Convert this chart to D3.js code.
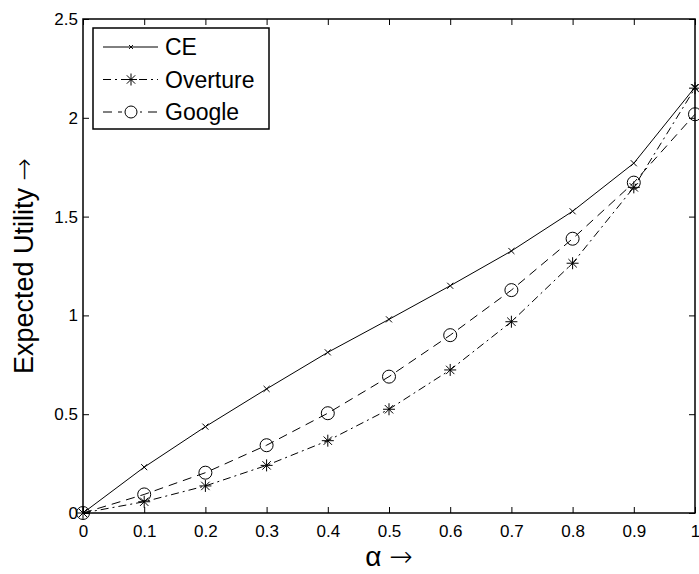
<!DOCTYPE html>
<html>
<head>
<meta charset="utf-8">
<script src="https://cdn.jsdelivr.net/npm/d3@7"></script>
<style>
  body { margin: 0; background: #fff; }
  svg text { font-family: Arial, "Liberation Sans", sans-serif; fill: #000; }
</style>
</head>
<body>
<div id="chart"></div>
<script>
// values
const alphas = [0, 0.1, 0.2, 0.3, 0.4, 0.5, 0.6, 0.7, 0.8, 0.9, 1.0];
const ceValues = [0, 0.232, 0.437, 0.628, 0.813, 0.98, 1.15, 1.326, 1.527, 1.77, 2.155];
const overtureValues = [0, 0.057, 0.137, 0.241, 0.366, 0.525, 0.724, 0.968, 1.264, 1.648, 2.15];
const googleValues = [0, 0.094, 0.204, 0.343, 0.505, 0.69, 0.9, 1.128, 1.388, 1.672, 2.018];
const xTicks = [0, 0.1, 0.2, 0.3, 0.4, 0.5, 0.6, 0.7, 0.8, 0.9, 1];
const yTicks = [0, 0.5, 1, 1.5, 2, 2.5];
const seriesNames = ['CE', 'Overture', 'Google'];

const width = 699, height = 574;
const margin = { top: 19, right: 4, bottom: 61, left: 83 };

const svg = d3.select('#chart').append('svg')
    .attr('width', width)
    .attr('height', height);

const x = d3.scaleLinear().domain([0, 1]).range([margin.left, width - margin.right]);
const y = d3.scaleLinear().domain([0, 2.5]).range([height - margin.bottom, margin.top]);

const series = [
    { name: seriesNames[0], values: ceValues, dash: null, marker: 'x' },
    { name: seriesNames[1], values: overtureValues, dash: '8,4,2,4', marker: 'star' },
    { name: seriesNames[2], values: googleValues, dash: '9,6', marker: 'circle' },
];

// Axes box with inward ticks on all four sides
const tickLen = 6;
const g = svg.append('g');

g.append('g')
    .attr('transform', `translate(0,${y(0)})`)
    .call(d3.axisBottom(x).tickValues(xTicks).tickSizeInner(-tickLen).tickSizeOuter(0)
        .tickPadding(12).tickFormat(d3.format('')))
    .call(a => a.select('.domain').remove())
    .call(a => a.selectAll('text').attr('font-size', '17px').attr('dy', '0.71em'));

g.append('g')
    .attr('transform', `translate(0,${y(2.5)})`)
    .call(d3.axisTop(x).tickValues(xTicks).tickSizeInner(-tickLen).tickSizeOuter(0).tickFormat(''))
    .call(a => a.select('.domain').remove());

g.append('g')
    .attr('transform', `translate(${x(0)},0)`)
    .call(d3.axisLeft(y).tickValues(yTicks).tickSizeInner(-tickLen).tickSizeOuter(0)
        .tickPadding(5).tickFormat(d3.format('')))
    .call(a => a.select('.domain').remove())
    .call(a => a.selectAll('text').attr('font-size', '17px'));

g.append('g')
    .attr('transform', `translate(${x(1)},0)`)
    .call(d3.axisRight(y).tickValues(yTicks).tickSizeInner(-tickLen).tickSizeOuter(0).tickFormat(''))
    .call(a => a.select('.domain').remove());

g.selectAll('.tick line').attr('stroke', '#000').attr('stroke-width', 1);

// plot frame
g.append('rect')
    .attr('x', x(0)).attr('y', y(2.5))
    .attr('width', x(1) - x(0)).attr('height', y(0) - y(2.5))
    .attr('fill', 'none').attr('stroke', '#000').attr('stroke-width', 1.5);

// marker drawing
function drawMarker(sel, type, size) {
    if (type === 'x') {
        const s = size * 0.55;
        sel.append('path')
            .attr('d', `M${-s},${-s}L${s},${s}M${-s},${s}L${s},${-s}`)
            .attr('stroke', '#000').attr('stroke-width', 1).attr('fill', 'none');
    } else if (type === 'star') {
        const s = size;
        const d = s * 0.7;
        sel.append('path')
            .attr('d', `M0,${-s}L0,${s}M${-s},0L${s},0M${-d},${-d}L${d},${d}M${-d},${d}L${d},${-d}`)
            .attr('stroke', '#000').attr('stroke-width', 1).attr('fill', 'none');
    } else {
        sel.append('circle').attr('r', size)
            .attr('stroke', '#000').attr('stroke-width', 1).attr('fill', 'none');
    }
}

const line = d3.line().x((d, i) => x(alphas[i])).y(d => y(d));

series.forEach(s => {
    g.append('path')
        .datum(s.values)
        .attr('d', line)
        .attr('fill', 'none')
        .attr('stroke', '#000')
        .attr('stroke-width', 1)
        .attr('stroke-dasharray', s.dash);

    g.append('g').selectAll('g')
        .data(s.values)
        .join('g')
        .attr('transform', (d, i) => `translate(${x(alphas[i])},${y(d)})`)
        .each(function () {
            drawMarker(d3.select(this), s.marker, s.marker === 'circle' ? 6.5 : (s.marker === 'star' ? 6 : 5.5));
        });
});

// legend
const legend = svg.append('g').attr('transform', 'translate(93,28)');
legend.append('rect')
    .attr('width', 176).attr('height', 101)
    .attr('fill', '#fff').attr('stroke', '#000').attr('stroke-width', 1.5);

series.forEach((s, i) => {
    const ly = 19 + i * 32.5;
    legend.append('line')
        .attr('x1', 10).attr('x2', 65).attr('y1', ly).attr('y2', ly)
        .attr('stroke', '#000').attr('stroke-width', 1)
        .attr('stroke-dasharray', s.dash);
    const m = legend.append('g').attr('transform', `translate(38,${ly})`);
    if (s.marker === 'circle') {
        m.append('rect').attr('x', -9).attr('y', -8).attr('width', 18).attr('height', 16).attr('fill', '#fff');
    }
    drawMarker(m, s.marker, s.marker === 'circle' ? 6 : (s.marker === 'star' ? 6 : 3.5));
    legend.append('text')
        .attr('x', 72).attr('y', ly)
        .attr('dy', '0.36em')
        .attr('font-size', '23px')
        .text(s.name);
});

// axis titles
const xTitle = svg.append('text')
    .attr('x', x(0.5)).attr('y', 566)
    .attr('text-anchor', 'middle')
    .attr('font-size', '28px');
xTitle.append('tspan').text('α ');
xTitle.append('tspan').attr('font-family', 'DejaVu Sans').attr('font-weight', 300).text('→');

const yTitle = svg.append('text')
    .attr('transform', `translate(33,${(y(0) + y(2.5)) / 2}) rotate(-90)`)
    .attr('text-anchor', 'middle')
    .attr('font-size', '27px');
yTitle.append('tspan').text('Expected Utility ');
yTitle.append('tspan').attr('font-family', 'DejaVu Sans').attr('font-weight', 300).text('→');
</script>
</body>
</html>
